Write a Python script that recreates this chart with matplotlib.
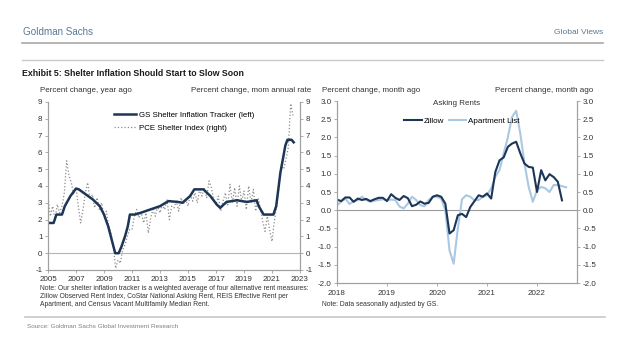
import numpy as np
import matplotlib
matplotlib.use('Agg')
import matplotlib.pyplot as plt
from matplotlib.lines import Line2D

plt.rcParams['font.family'] = ['Liberation Sans', 'DejaVu Sans']
plt.rcParams['axes.unicode_minus'] = False

W, H = 630, 341

# left panel: GS shelter tracker (left axis) and PCE shelter (right axis)
gs_x = [2005.0, 2005.4, 2005.6, 2006.0, 2006.2, 2006.6, 2007.0, 2007.2, 2007.7, 2008.2,
        2008.7, 2009.0, 2009.3, 2009.55, 2009.8, 2010.05, 2010.25, 2010.5, 2010.7, 2010.85,
        2011.2, 2011.6, 2012.3, 2013.0, 2013.6, 2014.3, 2014.6, 2015.15, 2015.45, 2016.1,
        2016.6, 2017.05, 2017.3, 2017.75, 2018.5, 2019.2, 2019.9, 2020.05, 2020.4, 2021.1,
        2021.3, 2021.45, 2021.6, 2021.8, 2021.95, 2022.1, 2022.4, 2022.55]
gs_y = [1.8, 1.8, 2.3, 2.3, 2.8, 3.4, 3.85, 3.8, 3.5, 3.2,
        2.8, 2.3, 1.6, 0.8, 0.0, 0.0, 0.4, 1.0, 1.6, 2.3,
        2.3, 2.4, 2.6, 2.8, 3.1, 3.05, 3.0, 3.4, 3.8, 3.8,
        3.4, 2.9, 2.7, 3.05, 3.15, 3.05, 3.15, 2.8, 2.3, 2.3,
        2.8, 3.8, 4.8, 5.7, 6.4, 6.75, 6.75, 6.6]

# PCE shelter, every two months from Jan 2005
pce_y = [3.3, 2.2, 2.8, 2.0, 2.9, 2.4,
         2.8, 3.6, 5.5, 4.6, 4.2, 3.5,
         3.9, 2.8, 1.8, 2.6, 3.6, 4.2,
         3.2, 3.5, 2.7, 3.3, 2.6, 3.0,
         2.2, 2.5, 1.6, 1.2, 0.4, -0.9,
         -0.4, -0.6, 0.2, 0.5, 1.0, 1.4,
         1.4, 2.2, 2.6, 2.1, 2.4, 1.8,
         2.4, 1.2, 2.1, 2.6, 2.2, 2.8,
         2.4, 2.9, 2.6, 3.2, 2.0, 2.8,
         2.7, 3.1, 2.5, 3.3, 2.9, 3.2,
         2.8, 3.5, 3.1, 3.6, 3.0, 3.8,
         3.4, 3.9, 3.3, 4.3, 3.9, 3.2,
         2.9, 3.4, 2.5, 3.1, 3.6, 2.8,
         4.1, 3.0, 3.9, 2.8, 4.0, 3.1,
         3.7, 2.6, 4.0, 3.0, 3.8, 2.5,
         3.3, 2.7, 1.9, 1.3, 2.2, 1.4,
         0.7, 1.9, 2.8, 4.0, 5.2, 5.0,
         5.6, 6.3, 8.9, 8.2]
pce_x = 2005 + np.arange(len(pce_y)) / 6

# right panel: monthly asking rents from Jan 2018
zillow = [0.29, 0.25, 0.35, 0.35, 0.23, 0.32, 0.28, 0.31, 0.25, 0.30, 0.34, 0.34,
          0.25, 0.44, 0.34, 0.28, 0.39, 0.33, 0.11, 0.15, 0.24, 0.18, 0.20, 0.37,
          0.41, 0.37, 0.18, -0.64, -0.55, -0.14, -0.10, -0.19, 0.09, 0.25, 0.41, 0.37,
          0.46, 0.32, 1.05, 1.37, 1.45, 1.74, 1.83, 1.88, 1.56, 1.28, 1.19, 1.17,
          0.50, 1.10, 0.82, 0.99, 0.91, 0.78, 0.27]
apt_list = [0.14, 0.23, 0.32, 0.17, 0.25, 0.28, 0.37, 0.28, 0.23, 0.26, 0.28, 0.30,
            0.28, 0.29, 0.28, 0.10, 0.05, 0.18, 0.37, 0.28, 0.14, 0.11, 0.28, 0.37,
            0.37, 0.32, 0.0, -1.10, -1.47, -0.50, 0.30, 0.41, 0.37, 0.27, 0.28, 0.37,
            0.41, 0.60, 0.92, 1.10, 1.56, 2.00, 2.56, 2.73, 2.10, 1.28, 0.64, 0.23,
            0.55, 0.64, 0.60, 0.50, 0.69, 0.69, 0.66, 0.63]
zillow_x = 2018 + np.arange(len(zillow)) / 12
apt_x = 2018 + np.arange(len(apt_list)) / 12

left_yticks = list(range(-1, 10))
left_xticks = list(range(2005, 2024, 2))
right_yticks = [-2.0, -1.5, -1.0, -0.5, 0.0, 0.5, 1.0, 1.5, 2.0, 2.5, 3.0]
right_xticks = [2018, 2019, 2020, 2021, 2022]

navy = '#1d3557'
light = '#aac8e2'
spine_c = '#a0a0a0'
txt_c = '#333333'
fs = 5.8


def fx(x):
    return x / W


def fy(y):
    return 1 - y / H


def style(ax):
    ax.spines['top'].set_visible(False)
    for s in ['left', 'right', 'bottom']:
        ax.spines[s].set_color(spine_c)
        ax.spines[s].set_linewidth(0.8)
    ax.tick_params(labelsize=fs, colors=txt_c, length=2, width=0.6, color=spine_c, pad=2)


fig = plt.figure(figsize=(W / 100, H / 100), dpi=100)

# ---- left panel
ax1 = fig.add_axes([fx(48), fy(270), fx(300) - fx(48), fy(102) - fy(270)])
ax1r = ax1.twinx()
ax1.axhline(0, color='#b5b5b5', lw=0.8, zorder=1)
l2, = ax1r.plot(pce_x, pce_y, color='#8c8c8c', lw=0.9, ls=':', label='PCE Shelter Index (right)')
l1, = ax1.plot(gs_x, gs_y, color=navy, lw=1.8, label='GS Shelter Inflation Tracker (left)')
ax1.set_zorder(ax1r.get_zorder() + 1)
ax1.patch.set_visible(False)
for a in (ax1, ax1r):
    a.set_ylim(-1, 9)
    a.set_yticks(left_yticks)
    style(a)
ax1.set_xlim(2005, 2023)
ax1.set_xticks(left_xticks)
ax1.set_xticklabels([str(t) for t in left_xticks])
ax1.legend(handles=[l1, l2], loc='upper left', bbox_to_anchor=(0.25, 0.965), frameon=False,
           fontsize=5.7, handlelength=2.8, handletextpad=0.3, labelspacing=0.75, borderaxespad=0)

# ---- right panel
ax2 = fig.add_axes([fx(337), fy(283), fx(577) - fx(337), fy(101) - fy(283)])
ax2r = ax2.twinx()
ax2.axhline(0, color='#9a9a9a', lw=0.8, zorder=1)
z1, = ax2.plot(apt_x, apt_list, color=light, lw=1.5, label='Apartment List')
z0, = ax2.plot(zillow_x, zillow, color=navy, lw=1.5, label='Zillow')
for a in (ax2, ax2r):
    a.set_ylim(-2, 3)
    a.set_yticks(right_yticks)
    a.set_yticklabels(['%.1f' % t for t in right_yticks])
    style(a)
ax2.set_xlim(2018, 2022.8)
ax2.set_xticks(right_xticks)
ax2.set_xticklabels([str(t) for t in right_xticks])
ax2.tick_params(axis='x', pad=3)
ax2.legend(handles=[z0, z1], loc='upper center', bbox_to_anchor=(0.52, 0.93), ncol=2, frameon=False,
           fontsize=fs, handlelength=2.2, handletextpad=0.2, columnspacing=0.6, borderaxespad=0)
ax2.text(0.5, 0.985, 'Asking Rents', transform=ax2.transAxes, ha='center', va='center',
         fontsize=fs, color=txt_c)

# ---- header, titles, notes
head_c = '#5a7895'
fig.text(fx(23), fy(32), 'Goldman Sachs', fontsize=7.1, color=head_c, va='center', ha='left')
fig.text(fx(603), fy(33), 'Global Views', fontsize=6.0, color=head_c, va='center', ha='right')
fig.add_artist(Line2D([fx(22), fx(603)], [fy(43), fy(43)], color='#a8a8a8', lw=1.2))
fig.add_artist(Line2D([fx(22), fx(603)], [fy(60), fy(60)], color='#c8c8c8', lw=1.0))
fig.text(fx(22), fy(73), 'Exhibit 5: Shelter Inflation Should Start to Slow Soon', fontsize=6.3,
         weight='bold', color='#1a1a1a', va='center', ha='left')

fig.text(fx(40), fy(91), 'Percent change, year ago', fontsize=fs, color=txt_c, va='center')
fig.text(fx(311), fy(91), 'Percent change, mom annual rate', fontsize=fs, color=txt_c,
         va='center', ha='right')
fig.text(fx(322), fy(91), 'Percent change, month ago', fontsize=fs, color=txt_c, va='center')
fig.text(fx(593), fy(91), 'Percent change, month ago', fontsize=fs, color=txt_c, va='center',
         ha='right')

note_fs = 4.9
fig.text(fx(40), fy(285),
         'Note: Our shelter inflation tracker is a weighted average of four alternative rent measures:\n'
         'Zillow Observed Rent Index, CoStar National Asking Rent, REIS Effective Rent per\n'
         'Apartment, and Census Vacant Multifamily Median Rent.',
         fontsize=note_fs, color=txt_c, va='top', linespacing=1.25)
fig.text(fx(322), fy(304), 'Note: Data seasonally adjusted by GS.', fontsize=note_fs, color=txt_c,
         va='center')
fig.add_artist(Line2D([fx(25), fx(605)], [fy(317), fy(317)], color='#c8c8c8', lw=1.2))
fig.text(fx(27), fy(326), 'Source: Goldman Sachs Global Investment Research', fontsize=4.6,
         color='#808080', va='center')

fig.savefig('out.png', dpi=100)
